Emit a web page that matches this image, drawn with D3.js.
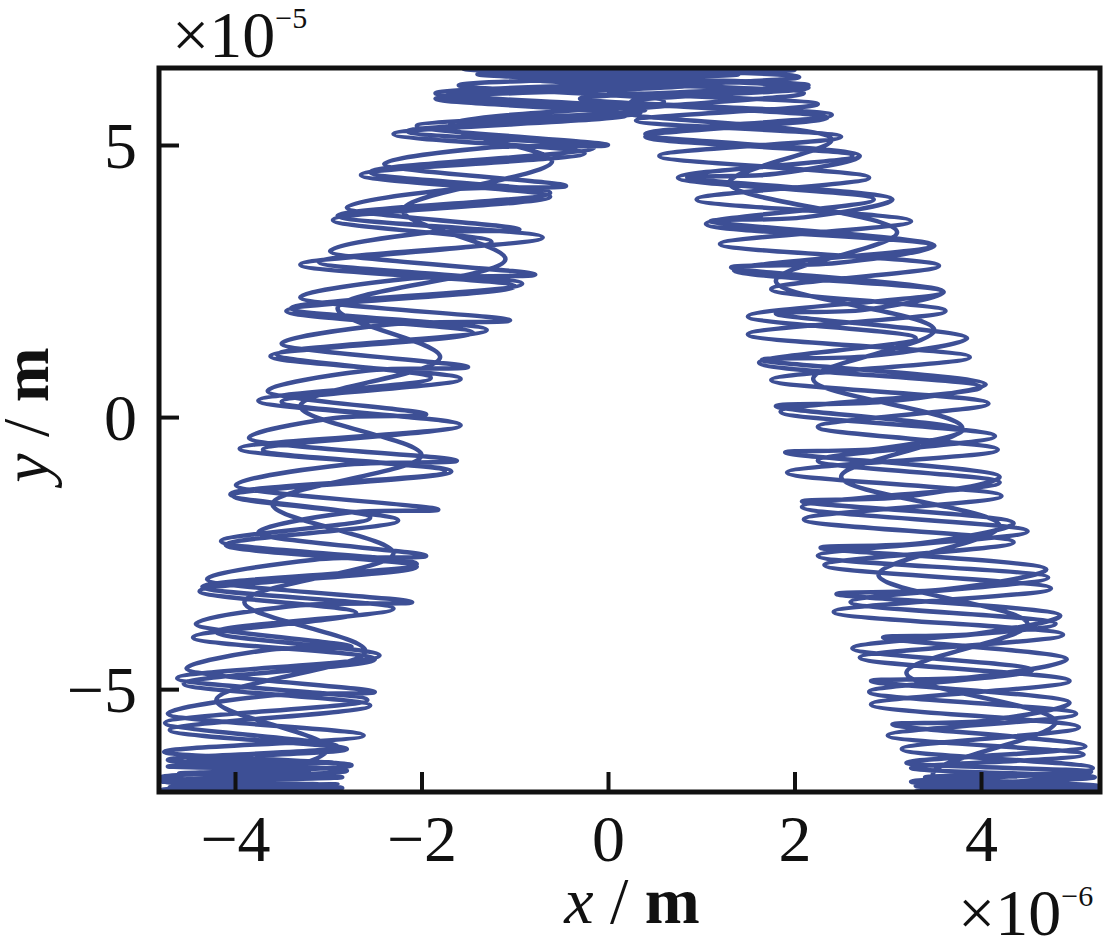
<!DOCTYPE html>
<html>
<head>
<meta charset="utf-8">
<script src="https://cdn.jsdelivr.net/npm/d3@7"></script>
<style>
  body { margin: 0; background: #fff; }
  text { font-family: "Liberation Serif", "Times New Roman", serif; fill: #111; }
</style>
</head>
<body>
<svg id="chart" width="1104" height="938"></svg>
<script>
// axis settings (x in 1e-6 m, y in 1e-5 m)
var xTicks = [-4, -2, 0, 2, 4];
var yTicks = [-5, 0, 5];
var xDomain = [-4.815, 5.276];
var yDomain = [-6.89, 6.415];

// trajectory, piece by piece
var bottomLeft0 = [[-3.0,-6.95],[-4.75,-6.9],[-2.9,-6.85],[-4.7,-6.8],[-3.1,-6.75],[-4.78,-6.7],[-2.85,-6.62],[-4.6,-6.55],[-3.2,-6.48],[-4.72,-6.42],[-2.95,-6.35],[-4.5,-6.28]];
var leftUp1 = [[-2.80,-6.10],[-4.70,-5.75],[-2.55,-5.30],[-4.55,-4.90],[-2.50,-4.45],[-4.45,-4.05],[-2.70,-3.60],[-4.38,-3.20],[-2.05,-2.75],[-4.10,-2.35],[-2.25,-1.90],[-4.02,-1.45],[-1.68,-1.00],[-3.70,-0.60],[-1.58,-0.15],[-3.75,0.30],[-1.90,0.72],[-3.55,1.15],[-1.30,1.60],[-3.40,2.00],[-0.92,2.45],[-3.10,2.85],[-0.70,3.30],[-2.90,3.70],[-0.62,4.12],[-2.55,4.50],[-0.15,4.95]];
var top1 = [[-2.15,5.25],[0.35,5.60],[-1.75,5.90],[1.10,6.15],[-1.20,6.35],[1.95,6.45],[-0.40,6.30],[2.15,6.05],[0.25,5.80],[2.35,5.50]];
var rightDown1 = [[0.40,5.15],[2.62,4.80],[0.75,4.40],[2.85,4.00],[1.05,3.55],[3.45,3.15],[1.35,2.70],[3.58,2.30],[1.50,1.85],[3.30,1.45],[1.62,1.00],[4.00,0.55],[1.85,0.10],[4.15,-0.35],[2.25,-0.80],[4.20,-1.20],[2.08,-1.65],[4.50,-2.10],[2.25,-2.55],[4.72,-2.95],[2.60,-3.40],[4.80,-3.80],[2.62,-4.25],[4.55,-4.65],[2.80,-5.05],[5.02,-5.45],[3.00,-5.85],[5.10,-6.20]];
var bottomRight1 = [[3.25,-6.45],[5.22,-6.62],[3.30,-6.78],[5.28,-6.90],[3.35,-6.98],[5.30,-6.85],[3.25,-6.70],[5.18,-6.52],[3.20,-6.35]];
var rightUp2 = [[5.12,-6.05],[3.05,-5.65],[4.05,-5.58],[4.95,-5.25],[2.82,-4.85],[3.90,-4.78],[4.92,-4.45],[2.95,-4.05],[3.95,-3.98],[4.85,-3.65],[2.45,-3.25],[3.60,-3.17],[4.70,-2.80],[2.28,-2.40],[3.35,-2.32],[4.35,-1.95],[2.08,-1.55],[3.15,-1.47],[4.20,-1.10],[1.90,-0.65],[2.90,-0.58],[3.80,-0.25],[1.80,0.20],[2.95,0.28],[4.05,0.60],[1.65,1.05],[2.80,1.12],[3.85,1.45],[1.80,1.90],[2.75,1.97],[3.60,2.30],[1.32,2.75],[2.45,2.83],[3.50,3.15],[1.10,3.60],[2.10,3.67],[3.05,4.00],[0.85,4.40],[1.80,4.47],[2.70,4.80],[0.40,5.20]];
var top2 = [[2.40,5.55],[-0.30,5.85],[2.15,6.10],[-1.10,6.30],[1.50,6.45],[-1.55,6.40],[0.80,6.20],[-1.85,5.95],[0.40,5.65],[-2.05,5.35]];
var leftDown2 = [[0.00,5.00],[-1.30,4.95],[-2.40,4.65],[-0.45,4.25],[-1.70,4.18],[-2.80,3.85],[-0.95,3.45],[-2.00,3.38],[-2.98,3.05],[-0.78,2.62],[-2.10,2.55],[-3.30,2.20],[-1.05,1.78],[-2.35,1.70],[-3.50,1.35],[-1.50,0.92],[-2.60,0.85],[-3.65,0.48],[-1.95,0.05],[-2.95,-0.02],[-3.85,-0.38],[-1.62,-0.80],[-2.85,-0.88],[-3.99,-1.25],[-1.82,-1.70],[-2.80,-1.76],[-3.75,-2.12],[-1.95,-2.55],[-3.15,-2.62],[-4.30,-2.98],[-2.10,-3.40],[-3.30,-3.46],[-4.42,-3.80],[-2.75,-4.22],[-3.65,-4.28],[-4.52,-4.62],[-2.50,-5.05],[-3.65,-5.12],[-4.72,-5.45],[-2.62,-5.85]];
var bottomLeft2 = [[-4.76,-6.15],[-2.75,-6.40],[-4.80,-6.62],[-2.85,-6.82],[-4.80,-6.98],[-2.90,-6.88],[-4.75,-6.70],[-2.80,-6.50],[-4.72,-6.30]];
var leftUp3 = [[-2.90,-6.05],[-4.75,-5.62],[-2.58,-5.20],[-4.62,-4.80],[-2.45,-4.38],[-4.20,-3.95],[-2.30,-3.52],[-4.35,-3.12],[-2.05,-2.70],[-4.15,-2.28],[-2.55,-1.85],[-4.05,-1.42],[-1.75,-1.00],[-3.95,-0.58],[-1.58,-0.15],[-3.50,0.28],[-1.58,0.70],[-3.62,1.12],[-1.45,1.55],[-3.45,1.95],[-1.00,2.40],[-3.30,2.80],[-1.25,3.22],[-2.95,3.62],[-0.62,4.05],[-2.65,4.45],[-0.25,4.85],[-2.30,5.20]];
var top3 = [[0.20,5.55],[-1.85,5.85],[0.90,6.10],[-1.40,6.30],[1.75,6.42],[-0.70,6.45],[2.05,6.25],[0.00,6.00],[2.25,5.75],[0.30,5.45]];
var rightDown3 = [[2.50,5.15],[0.55,4.80],[2.80,4.40],[0.95,4.00],[3.25,3.60],[1.20,3.18],[3.55,2.78],[1.75,2.35],[3.62,1.95],[1.50,1.52],[3.88,1.10],[1.75,0.68],[4.08,0.25],[2.25,-0.18],[4.18,-0.60],[1.92,-1.02],[4.22,-1.45],[2.10,-1.88],[4.35,-2.30],[2.32,-2.72],[4.75,-3.15],[2.42,-3.58],[4.88,-4.00],[2.70,-4.42],[4.95,-4.85],[2.82,-5.28],[5.05,-5.70],[3.15,-6.10],[5.20,-6.45],[3.30,-6.75],[5.28,-6.95]];
var bottomRight2 = [[3.30,-6.88],[5.25,-6.78],[3.40,-6.62],[5.15,-6.55],[3.50,-6.70]];
var rightCross = [[3.50,-6.50],[4.80,-5.60],[3.20,-4.70],[4.50,-3.80],[2.90,-2.90],[4.20,-2.00],[2.50,-1.10],[3.80,-0.20],[2.20,0.70],[3.50,1.60],[1.80,2.50],[3.10,3.40],[1.30,4.30],[2.40,5.10]];
var top4 = [[0.20,5.60],[2.10,5.95],[-0.80,6.20],[2.00,6.38],[-1.30,6.45],[1.40,6.30],[-1.60,6.10],[0.60,5.80],[-1.70,5.35]];
var leftCross = [[-0.60,4.70],[-2.20,3.80],[-1.10,2.90],[-2.90,2.00],[-1.80,1.10],[-3.30,0.20],[-2.00,-0.70],[-3.60,-1.60],[-2.30,-2.50],[-3.90,-3.40],[-2.60,-4.30],[-4.20,-5.20],[-3.00,-6.10],[-4.30,-6.90]];
var bottomLeft3 = [[-2.90,-6.75],[-4.78,-6.85],[-3.00,-6.95],[-4.70,-6.60],[-3.20,-6.50]];

var trajectory = [].concat(bottomLeft0, leftUp1, top1, rightDown1, bottomRight1, rightUp2,
  top2, leftDown2, bottomLeft2, leftUp3, top3, rightDown3, bottomRight2, rightCross,
  top4, leftCross, bottomLeft3);

var svg = d3.select("#chart");
var margin = {top: 68, right: 4, bottom: 146, left: 159};
var width = +svg.attr("width") - margin.left - margin.right,
    height = +svg.attr("height") - margin.top - margin.bottom;
var g = svg.append("g").attr("transform", "translate(" + margin.left + "," + margin.top + ")");

var x = d3.scaleLinear().domain(xDomain).range([0, width]);
var y = d3.scaleLinear().domain(yDomain).range([height, 0]);

svg.append("defs").append("clipPath").attr("id", "plotclip")
  .append("rect").attr("width", width).attr("height", height);

var line = d3.line()
    .x(function(d) { return x(d[0]); })
    .y(function(d) { return y(d[1]); })
    .curve(d3.curveCatmullRom.alpha(0.5));

g.append("path")
    .datum(trajectory)
    .attr("clip-path", "url(#plotclip)")
    .attr("fill", "none")
    .attr("stroke", "#3d4f95")
    .attr("stroke-width", 4.5)
    .attr("stroke-linejoin", "round")
    .attr("d", line);

// axes with inward ticks
var xAxis = g.append("g")
    .attr("transform", "translate(0," + height + ")")
    .call(d3.axisBottom(x).tickValues(xTicks).tickSize(-20).tickSizeOuter(0).tickPadding(22));
var yAxis = g.append("g")
    .call(d3.axisLeft(y).tickValues(yTicks).tickSize(-20).tickSizeOuter(0).tickPadding(22));

[xAxis, yAxis].forEach(function(a) {
  a.select(".domain").remove();
  a.selectAll(".tick line").attr("stroke", "#111").attr("stroke-width", 4);
  a.selectAll(".tick text")
    .attr("fill", "#111")
    .style("font-family", '"Liberation Serif", "Times New Roman", serif')
    .style("font-size", "66px");
});
yAxis.selectAll(".tick text").attr("dy", "0.34em");

// frame
g.append("rect")
    .attr("width", width).attr("height", height)
    .attr("fill", "none").attr("stroke", "#111").attr("stroke-width", 5);

// multipliers
var m1 = svg.append("text").attr("x", 172).attr("y", 57).style("font-size", "66px");
m1.append("tspan").text("\u00d710");
m1.append("tspan").attr("dy", -29).style("font-size", "30px").text("\u22125");

var m2 = svg.append("text").attr("x", 958).attr("y", 935).style("font-size", "66px");
m2.append("tspan").text("\u00d710");
m2.append("tspan").attr("dy", -29).style("font-size", "30px").text("\u22126");

// axis titles
var xl = svg.append("text").attr("x", 632).attr("y", 923)
    .attr("text-anchor", "middle").style("font-size", "66px");
xl.append("tspan").style("font-style", "italic").text("x");
xl.append("tspan").text(" / ");
xl.append("tspan").style("font-weight", "bold").text("m");

var yl = svg.append("text")
    .attr("transform", "translate(48,415) rotate(-90)")
    .attr("text-anchor", "middle").style("font-size", "66px");
yl.append("tspan").style("font-style", "italic").text("y");
yl.append("tspan").text(" / ");
yl.append("tspan").style("font-weight", "bold").text("m");
</script>
</body>
</html>
